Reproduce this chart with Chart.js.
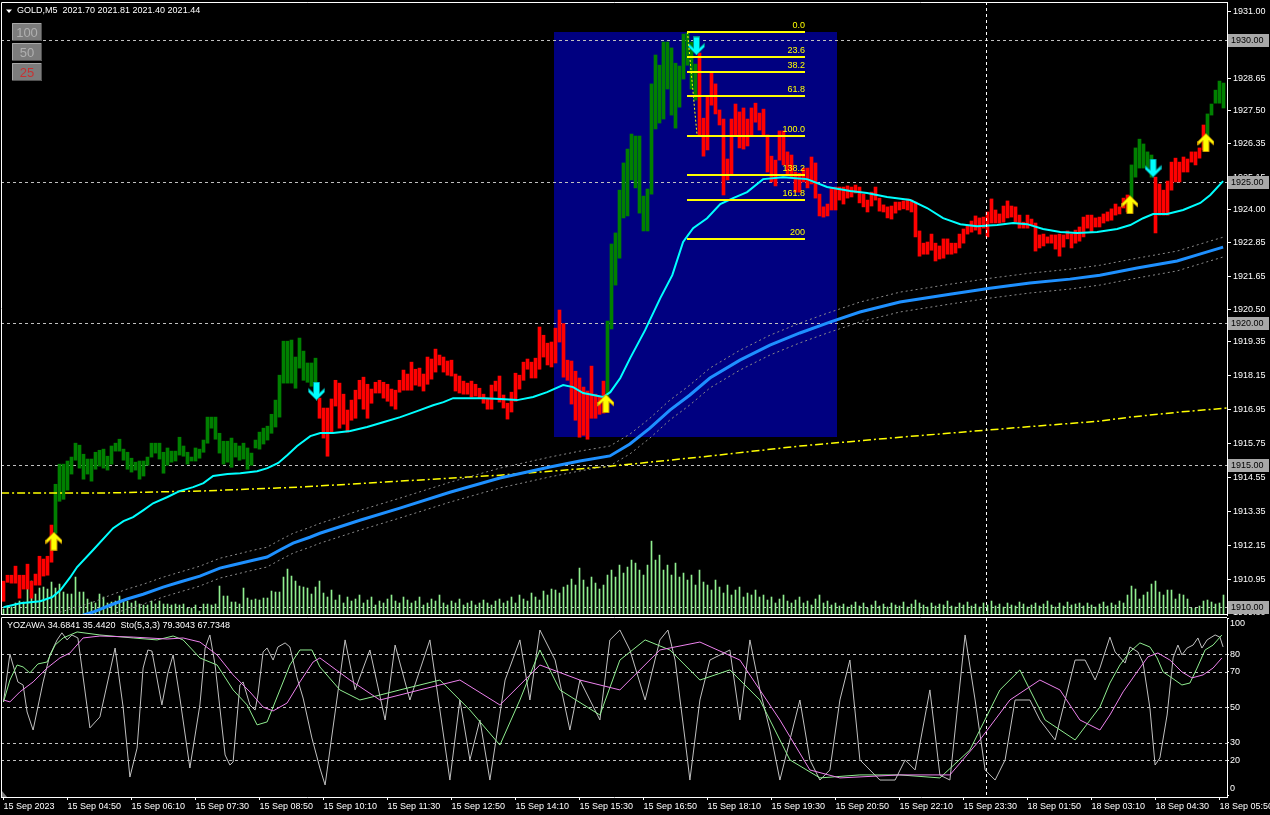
<!DOCTYPE html>
<html><head><meta charset="utf-8">
<script src="https://cdn.jsdelivr.net/npm/chart.js@4/dist/chart.umd.min.js"></script>
<style>
html,body{margin:0;padding:0;background:#000;width:1270px;height:815px;overflow:hidden}
#c1{position:absolute;left:0;top:0}
#c2{position:absolute;left:0;top:616px}
</style></head><body>
<canvas id="c1" width="1270" height="616"></canvas>
<canvas id="c2" width="1270" height="199"></canvas>
<script>
// ---------------- DATA ----------------
const barOpen = [
1910.90,1911.11,1911.11,1911.43,1911.11,1911.11,1911.50,1910.90,1911.15,1911.78,
1911.68,1911.78,1912.88,1912.59,1913.72,1913.79,1914.11,1914.68,1915.17,1914.89,
1914.50,1914.68,1914.43,1914.85,1914.96,1914.89,1914.82,1915.03,1915.49,1915.49,
1915.17,1914.85,1914.75,1914.82,1914.50,1914.61,1914.99,1915.28,1915.42,1915.21,
1914.71,1914.99,1915.10,1915.14,1915.35,1915.31,1915.03,1915.14,1915.14,1915.24,
1915.45,1915.77,1916.30,1915.91,1915.42,1915.03,1915.10,1914.92,1915.28,1915.17,
1915.21,1914.85,1914.99,1915.60,1915.56,1915.74,1915.88,1916.12,1916.34,1916.69,
1917.89,1917.89,1917.89,1917.71,1918.42,1917.99,1917.92,1917.78,1917.64,1917.36,
1917.01,1917.01,1917.33,1917.99,1917.89,1917.50,1916.94,1917.29,1917.64,1917.99,
1918.10,1917.85,1917.68,1917.92,1917.99,1917.92,1917.85,1917.68,1917.64,1917.99,
1918.35,1918.21,1918.63,1918.38,1918.42,1918.21,1918.81,1918.74,1919.09,1918.88,
1918.81,1918.67,1918.70,1918.21,1918.14,1917.96,1917.89,1917.96,1917.85,1917.71,
1917.50,1917.36,1917.82,1917.96,1918.14,1917.47,1917.18,1917.57,1918.24,1918.17,
1918.63,1918.74,1918.63,1918.77,1919.87,1919.58,1919.30,1919.34,1919.83,1920.47,
1919.99,1918.70,1918.67,1918.31,1918.07,1917.75,1917.61,1918.49,1917.50,1917.43,
1917.96,1917.15,1919.80,1921.35,1922.30,1923.72,1923.79,1925.06,1924.78,1923.89,
1923.26,1923.26,1924.56,1926.86,1927.07,1927.21,1928.27,1927.35,1926.89,1927.63,
1928.62,1929.11,1928.27,1927.88,1929.54,1927.24,1927.98,1928.83,1928.45,1927.53,
1927.21,1925.80,1927.21,1927.74,1927.46,1927.60,1927.21,1927.60,1927.77,1927.42,
1927.56,1926.65,1925.90,1925.76,1926.79,1926.79,1926.05,1925.94,1925.34,1925.30,
1925.48,1925.48,1925.87,1925.66,1924.56,1924.11,1924.21,1924.78,1924.81,1924.81,
1924.81,1924.85,1924.81,1924.88,1924.81,1924.56,1924.35,1924.63,1924.81,1924.42,
1924.18,1924.11,1924.14,1924.28,1924.28,1924.32,1924.39,1924.35,1924.28,1923.26,
1922.83,1922.87,1923.15,1922.83,1922.73,1922.98,1922.98,1922.83,1922.83,1923.15,
1923.33,1923.47,1923.61,1923.79,1923.72,1923.75,1923.93,1924.39,1924.00,1923.86,
1924.14,1924.32,1924.14,1924.11,1923.82,1923.57,1923.82,1923.68,1923.54,1923.12,
1923.15,1923.05,1923.12,1923.12,1923.15,1923.12,1923.26,1923.15,1923.29,1923.40,
1923.75,1923.82,1923.82,1923.72,1923.75,1923.86,1923.93,1924.04,1924.21,1924.11,
1924.42,1924.53,1924.42,1925.16,1925.48,1925.48,1925.48,1925.16,1925.16,1924.92,
1924.70,1925.02,1925.69,1925.83,1925.69,1925.87,1925.80,1926.05,1926.05,1926.19,
1927.00,1926.54,1927.35,1927.77,1927.77,1927.60];
const barClose = [
1910.19,1910.86,1910.83,1910.83,1910.30,1910.62,1910.62,1910.30,1910.76,1910.76,
1911.08,1911.11,1911.57,1914.32,1915.03,1915.03,1915.14,1915.28,1915.77,1915.70,
1915.38,1915.21,1915.21,1915.45,1915.52,1915.56,1915.31,1915.67,1915.77,1915.91,
1915.56,1915.45,1915.24,1915.10,1915.14,1915.14,1915.28,1915.77,1915.77,1915.77,
1915.45,1915.60,1915.49,1915.49,1915.98,1915.67,1915.45,1915.28,1915.60,1915.56,
1915.88,1916.69,1916.69,1916.69,1916.12,1915.84,1915.84,1915.95,1915.77,1915.67,
1915.77,1915.60,1915.42,1915.88,1916.16,1916.30,1916.37,1916.79,1917.29,1918.17,
1919.37,1919.37,1919.41,1918.81,1919.48,1919.02,1918.60,1918.60,1918.77,1916.65,
1915.95,1915.31,1916.12,1917.08,1916.30,1916.44,1916.16,1916.58,1916.65,1917.33,
1916.97,1916.65,1917.18,1917.54,1917.54,1917.36,1917.25,1917.08,1916.97,1917.57,
1917.64,1917.64,1917.64,1917.82,1917.78,1917.61,1917.85,1918.03,1918.28,1918.53,
1918.28,1918.17,1918.14,1917.61,1917.54,1917.50,1917.50,1917.40,1917.43,1917.36,
1917.18,1916.97,1916.97,1917.61,1917.22,1917.01,1916.62,1916.87,1917.25,1917.68,
1917.99,1918.38,1918.07,1918.07,1918.38,1918.81,1918.53,1918.46,1918.60,1919.34,
1918.10,1917.99,1917.15,1916.58,1915.98,1916.05,1915.91,1916.65,1916.65,1916.79,
1916.83,1920.08,1922.80,1923.19,1924.70,1925.66,1926.15,1926.68,1926.61,1926.61,
1924.49,1924.74,1928.45,1929.47,1929.11,1929.93,1929.93,1929.72,1929.18,1929.08,
1930.21,1930.24,1929.93,1929.15,1926.65,1925.90,1926.12,1927.70,1927.39,1927.00,
1924.53,1925.06,1925.23,1926.65,1926.19,1926.15,1926.26,1926.61,1927.10,1926.82,
1926.65,1925.34,1924.99,1924.85,1925.76,1925.59,1925.23,1925.13,1924.63,1924.63,
1924.99,1924.78,1924.92,1924.42,1923.79,1923.75,1923.79,1924.00,1924.00,1924.35,
1924.21,1924.42,1924.46,1924.60,1924.25,1924.11,1923.93,1924.14,1924.35,1923.96,
1923.93,1923.72,1923.68,1923.89,1924.00,1924.04,1924.00,1923.93,1923.05,1922.37,
1922.44,1922.44,1922.58,1922.20,1922.27,1922.30,1922.44,1922.44,1922.48,1922.66,
1922.83,1923.15,1923.22,1923.29,1923.15,1923.36,1923.05,1923.54,1923.54,1923.54,
1923.57,1923.72,1923.75,1923.57,1923.36,1923.36,1923.36,1923.47,1922.55,1922.66,
1922.73,1922.83,1922.83,1922.62,1922.37,1922.69,1922.98,1922.66,1922.83,1922.90,
1923.05,1923.36,1923.22,1923.40,1923.40,1923.54,1923.61,1923.64,1923.82,1923.86,
1924.07,1923.93,1925.59,1926.19,1926.50,1926.33,1926.05,1925.94,1923.19,1923.82,
1923.82,1923.82,1924.70,1924.99,1924.99,1925.34,1925.34,1925.69,1925.59,1925.83,
1926.12,1927.39,1927.74,1928.23,1928.55,1928.48];
const tickVolume = [
6,9,8,12,14,13,37,34,21,27,
28,26,33,27,31,23,21,21,38,23,
23,16,13,12,21,18,12,13,14,19,
15,14,12,14,11,10,10,14,11,14,
11,11,10,11,10,11,7,7,10,4,
11,11,10,11,29,19,19,13,13,11,
27,17,15,16,15,17,17,24,23,23,
38,46,39,34,29,28,27,21,28,34,
22,18,25,15,20,12,18,14,16,20,
12,15,18,10,14,12,16,20,14,12,
18,15,12,14,18,10,12,16,14,20,
12,10,14,12,16,10,12,14,10,12,
15,12,10,14,16,12,14,18,12,20,
16,14,22,18,15,24,20,26,25,22,
28,30,36,30,47,35,28,38,32,26,
30,40,45,38,50,42,48,55,52,45,
40,50,74,55,60,45,50,40,52,38,
42,35,40,30,45,33,30,25,35,28,
22,30,20,25,28,18,22,20,25,18,
20,15,18,12,16,20,14,12,15,18,
12,14,10,16,20,12,14,10,12,9,
11,8,10,13,9,12,7,10,14,9,
11,8,12,10,9,13,8,11,15,12,
10,8,12,9,11,10,14,9,8,12,
10,13,9,11,8,12,10,14,9,11,
8,12,10,9,13,11,8,10,12,9,
11,14,10,8,12,9,13,10,11,12,
9,12,10,8,11,13,9,12,10,14,
12,20,29,26,16,20,23,31,34,23,
20,25,25,16,21,20,16,7,7,9,
14,15,13,11,12,20];

const cyanIdx = [0,4.2,9.2,12.2,14.2,16.7,18.4,22.4,27.4,30,32.4,35,37.4,41,44,47.4,50,52.4,56,59.2,63.4,66,68.7,71,73.4,76.7,79.2,82.4,86.7,90.9,94.9,99.2,103.4,107.4,110,112.4,116,120,124.2,128.4,132.4,135.9,139.9,142.4,144.9,147.4,149.9,151.7,154.2,156.7,160.4,164.2,167.2,169.9,172.4,175.9,179.2,182.4,185.9,189.9,194.9,200.9,205.9,211.7,215.9,220.9,226.7,230.9,234.9,239.2,243.4,248.4,252.4,255.9,259.9,264.2,268.4,273.4,278.4,281.7,284.9,287.4,290.9,294.9,299.2,301.7,304.9];
const cyanMA = [1909.98,1910.12,1910.19,1910.34,1910.58,1911.04,1911.40,1912.00,1912.77,1913.02,1913.16,1913.41,1913.65,1913.87,1914.08,1914.22,1914.36,1914.61,1914.68,1914.71,1914.78,1914.89,1915.07,1915.35,1915.67,1916.02,1916.13,1916.13,1916.20,1916.34,1916.51,1916.69,1916.90,1917.11,1917.22,1917.36,1917.36,1917.36,1917.33,1917.29,1917.40,1917.57,1917.82,1917.75,1917.54,1917.47,1917.40,1917.57,1918.07,1918.78,1919.76,1920.89,1921.70,1922.87,1923.36,1923.71,1924.21,1924.42,1924.63,1925.09,1925.16,1925.09,1924.81,1924.67,1924.60,1924.46,1924.35,1924.07,1923.71,1923.50,1923.43,1923.47,1923.54,1923.50,1923.33,1923.22,1923.19,1923.22,1923.33,1923.47,1923.71,1923.86,1923.86,1924.00,1924.25,1924.53,1925.02];

const blueIdx = [11.6,19.9,22.4,26.6,30.9,34.9,39.9,44.1,49.1,54.1,57.4,62.4,65.9,69.1,72.4,76.6,79.1,89.1,99.1,111.6,124.1,136.6,144.1,151.6,156.6,161.6,166.6,171.6,176.6,184.1,191.6,199.1,206.6,214.1,224.1,236.6,246.6,256.6,266.6,274.1,283.4,293.4,299.9,304.9];
const blueMA = [1909.35,1909.70,1909.81,1910.05,1910.27,1910.44,1910.69,1910.87,1911.08,1911.36,1911.47,1911.64,1911.75,1912.00,1912.24,1912.45,1912.59,1913.05,1913.48,1914.04,1914.54,1914.93,1915.14,1915.32,1915.74,1916.30,1916.94,1917.47,1918.07,1918.70,1919.23,1919.66,1920.04,1920.40,1920.75,1921.03,1921.24,1921.42,1921.56,1921.70,1921.95,1922.20,1922.48,1922.69];
const envUpper = [1909.70,1910.05,1910.16,1910.40,1910.62,1910.79,1911.04,1911.22,1911.43,1911.71,1911.82,1911.99,1912.10,1912.35,1912.59,1912.80,1912.94,1913.40,1913.83,1914.39,1914.89,1915.28,1915.49,1915.67,1916.09,1916.65,1917.29,1917.82,1918.42,1919.05,1919.58,1920.01,1920.39,1920.75,1921.10,1921.38,1921.59,1921.77,1921.91,1922.05,1922.30,1922.55,1922.83,1923.04];
const envLower = [1909.00,1909.35,1909.46,1909.70,1909.92,1910.09,1910.34,1910.52,1910.73,1911.01,1911.12,1911.29,1911.40,1911.65,1911.89,1912.10,1912.24,1912.70,1913.13,1913.69,1914.19,1914.58,1914.79,1914.97,1915.39,1915.95,1916.59,1917.12,1917.72,1918.35,1918.88,1919.31,1919.69,1920.05,1920.40,1920.68,1920.89,1921.07,1921.21,1921.35,1921.60,1921.85,1922.13,1922.34];

const yellowIdx = [-0.6,24.1,49.1,74.1,99.1,124.1,149.1,174.1,199.1,224.1,249.1,274.1,281.6,294.1,305.9];
const yellowMA = [1914.01,1914.01,1914.08,1914.22,1914.43,1914.64,1914.92,1915.28,1915.67,1915.98,1916.27,1916.55,1916.69,1916.87,1917.01];

const upArrowIdx = [12.6,150.6,281.6,300.6];
const upArrowPrice = [1912.31,1917.17,1924.19,1926.38];
const downArrowIdx = [78.25,173.25,287.4];
const downArrowPrice = [1917.61,1929.79,1925.48];

const fibLabels = ['0.0','23.6','38.2','61.8','100.0','138.2','161.8','200'];
const fibPrices = [1930.28,1929.40,1928.87,1928.02,1926.61,1925.23,1924.35,1922.97];
const fibStartIdx = 170.9, fibEndIdx = 200.4, fibTrendEndIdx = 173.4;
const rectStartIdx = 137.6, rectEndIdx = 208.4, rectTop = 1930.28, rectBottom = 1915.98;

const priceTicks = [1931.00,1929.85,1928.65,1927.50,1926.35,1925.15,1924.00,1922.85,1921.65,1920.50,1919.35,1918.15,1916.95,1915.75,1914.55,1913.35,1912.15,1910.95,1909.80];
const levelLines = [1930,1925,1920,1915,1910];
const crossIdx = 245.6;

const greyIdx = [0,1.6,3.6,4.9,5.9,7.4,9.9,11.6,13.4,14.6,15.9,17.1,18.6,21.6,23.4,24.1,27.9,29.9,31.6,33.4,34.9,36.1,37.1,39.6,41.1,42.4,44.1,46.6,49.1,50.4,51.6,52.9,55.4,56.6,57.4,59.1,59.9,61.6,62.9,63.6,64.9,65.9,67.4,68.6,70.4,71.6,73.4,74.9,77.1,79.1,80.4,85.4,87.9,91.6,95.4,97.9,101.6,106.6,111.6,114.1,116.6,119.1,121.6,125.4,129.1,131.6,134.1,137.9,141.6,144.1,149.1,151.6,154.1,156.6,160.4,164.1,166.1,167.9,170.4,171.6,174.1,176.6,181.6,184.1,186.6,189.1,191.6,194.1,199.1,201.6,204.1,206.6,209.1,211.6,214.1,219.1,222.9,225.4,227.9,231.6,234.1,236.6,240.4,242.9,245.4,247.9,250.4,252.9,256.6,259.1,262.9,265.4,267.9,270.4,272.9,274.1,276.6,277.9,280.4,281.6,283.6,284.9,286.6,287.9,289.1,290.9,292.4,293.6,294.6,295.9,297.4,298.6,299.6,300.9,302.9,304.1,304.9];
const greyOsc = [53.0,80.1,64.3,62.6,47.3,37.1,64.3,79.6,88.1,92.1,88.1,90.9,89.2,38.3,42.8,44.5,83.5,50.1,10.5,26.9,72.2,82.4,81.8,51.3,69.4,79.6,55.2,15.6,51.3,83.5,90.9,73.9,23.0,17.3,19.0,62.6,64.3,51.3,48.4,56.9,81.3,83.5,76.7,84.1,86.4,84.1,66.6,55.2,32.6,15.6,6.0,88.1,59.8,82.4,42.8,85.2,54.1,88.1,8.8,54.1,20.2,42.8,8.8,65.4,88.1,54.1,93.7,76.7,37.1,65.4,42.8,88.1,93.7,82.4,54.1,88.1,93.7,76.7,31.5,8.8,54.1,76.7,82.4,42.8,88.1,59.8,37.1,8.8,54.1,20.2,8.8,14.5,54.1,76.7,20.2,8.8,8.8,20.2,14.5,59.8,11.6,8.8,90.9,54.1,14.5,8.8,20.2,54.1,54.1,42.8,31.5,54.1,76.7,76.7,65.4,72.2,89.7,81.3,75.0,84.1,81.3,75.0,49.6,17.3,21.3,45.6,77.9,85.2,79.6,83.5,85.2,89.2,83.5,88.1,90.9,89.7,84.1];
const greenIdx = [0,1.6,3.4,4.9,6.6,8.6,10.9,12.9,14.9,18.4,24.1,32.4,38.4,42.4,44.9,49.1,53.4,57.4,60.9,63.4,65.9,68.4,71.6,74.1,77.1,79.1,84.1,89.1,94.1,99.1,109.1,116.6,124.1,129.1,134.1,139.1,149.1,154.1,160.4,166.6,174.1,181.6,189.1,196.6,204.1,214.1,224.1,234.1,241.6,249.1,254.1,260.4,267.9,274.1,276.6,279.1,281.6,284.1,286.6,288.4,289.9,292.1,294.6,296.6,298.4,300.4,302.4,304.6];
const greenOsc = [53.0,65.4,73.9,72.8,69.4,74.5,75.6,85.2,89.2,92.6,90.9,89.2,88.1,90.3,88.1,77.9,73.9,59.8,51.3,40.0,41.7,55.8,73.9,82.4,82.4,72.8,59.8,54.1,56.9,59.8,65.4,48.4,28.6,54.1,82.4,59.8,45.6,76.7,88.1,82.4,65.4,71.1,54.1,20.2,10.0,11.7,11.7,10.0,25.8,59.8,71.1,42.8,31.5,50.1,63.7,73.9,81.3,86.4,84.1,77.9,70.0,66.6,62.6,63.7,72.2,82.4,85.2,90.9];
const violetIdx = [0,1.6,4.1,7.4,10.9,14.1,16.6,19.9,24.1,32.4,40.9,44.9,49.1,53.4,57.4,61.6,64.9,67.4,70.9,74.1,77.4,79.1,86.6,94.1,104.1,114.1,124.1,134.1,144.1,154.1,164.1,174.1,184.1,194.1,201.6,209.1,224.1,236.6,244.1,251.6,259.1,264.1,269.1,274.1,276.6,279.9,283.4,286.1,288.6,291.6,294.6,297.1,299.9,302.4,304.6];
const violetOsc = [54.1,53.0,58.7,64.3,72.2,77.9,80.7,89.2,90.3,89.7,88.6,89.2,86.9,79.6,68.3,58.7,50.1,47.9,52.4,64.3,75.6,77.9,65.4,54.1,59.8,65.4,51.3,73.9,65.4,59.8,82.4,86.9,76.7,42.8,14.5,10.0,11.7,11.7,31.5,54.1,65.4,59.8,42.8,37.1,45.6,58.7,70.0,78.5,80.7,76.7,70.0,66.6,68.3,72.2,77.9];
const oscLevels = [80,70,50,30,20];
const oscTicks = [100,80,70,50,30,20,0];

const timeTickIdx = [0,16,32,48,64,80,96,112,128,144,160,176,192,208,224,240,256,272,288,304];
const timeLabels = ['15 Sep 2023','15 Sep 04:50','15 Sep 06:10','15 Sep 07:30','15 Sep 08:50','15 Sep 10:10','15 Sep 11:30','15 Sep 12:50','15 Sep 14:10','15 Sep 15:30','15 Sep 16:50','15 Sep 18:10','15 Sep 19:30','15 Sep 20:50','15 Sep 22:10','15 Sep 23:30','18 Sep 01:50','18 Sep 03:10','18 Sep 04:30','18 Sep 05:50'];

const titleText = 'GOLD,M5  2021.70 2021.81 2021.40 2021.44';
const oscTitle = 'YOZAWA 34.6841 35.4420  Sto(5,3,3) 79.3043 67.7348';
const buttonLabels = ['100','50','25'];

// ---------------- STYLE ----------------
const FONT = "'Liberation Sans', Arial, sans-serif";
const X_MIN = -0.625, X_MAX = 305.875;
const P_MAX = 1931.341, P_MIN = 1909.706;
Chart.defaults.font.family = FONT;
Chart.defaults.font.size = 9;
Chart.defaults.color = '#ffffff';

function pts(xs, ys) { return xs.map((v, k) => ({x: v, y: ys[k]})); }

function makeArrow(fill, edge, up) {
  const c = document.createElement('canvas'); c.width = 17; c.height = 19;
  const g = c.getContext('2d');
  const p = [[8.5,0.5],[16.5,8.5],[16.5,12],[11.5,7.5],[11.5,18.5],[5.5,18.5],[5.5,7.5],[0.5,12],[0.5,8.5]];
  g.beginPath();
  p.forEach(([x, y], k) => { const yy = up ? y : 19 - y; if (k) g.lineTo(x, yy); else g.moveTo(x, yy); });
  g.closePath(); g.fillStyle = fill; g.fill(); g.strokeStyle = edge; g.lineWidth = 1; g.stroke();
  return c;
}
const upImg = makeArrow('#ffff00', '#c89000', true);
const downImg = makeArrow('#00ffff', '#008c8c', false);

const mainDecor = {
  id: 'mainDecor',
  beforeDatasetsDraw(chart) {
    const {ctx, chartArea: a, scales: {x, y}} = chart;
    ctx.save();
    const rx1 = x.getPixelForValue(rectStartIdx), rx2 = x.getPixelForValue(rectEndIdx);
    const ry1 = y.getPixelForValue(rectTop), ry2 = y.getPixelForValue(rectBottom);
    ctx.fillStyle = '#000080';
    ctx.fillRect(Math.round(rx1), Math.round(ry1), Math.round(rx2 - rx1), Math.round(ry2 - ry1));
    ctx.strokeStyle = '#c0c0c0'; ctx.lineWidth = 1; ctx.setLineDash([3, 3]);
    levelLines.forEach(p => {
      const py = Math.round(y.getPixelForValue(p)) + 0.5;
      ctx.beginPath(); ctx.moveTo(a.left, py); ctx.lineTo(a.right, py); ctx.stroke();
    });
    ctx.restore();
  },
  afterDatasetsDraw(chart) {
    const {ctx, chartArea: a, scales: {x, y}} = chart;
    ctx.save();
    const fx1 = Math.round(x.getPixelForValue(fibStartIdx)), fx2 = Math.round(x.getPixelForValue(fibEndIdx));
    ctx.strokeStyle = '#ffff00'; ctx.lineWidth = 2;
    ctx.font = '9px ' + FONT; ctx.fillStyle = '#ffff00'; ctx.textAlign = 'right'; ctx.textBaseline = 'bottom';
    fibPrices.forEach((p, k) => {
      const py = Math.round(y.getPixelForValue(p));
      ctx.beginPath(); ctx.moveTo(fx1, py); ctx.lineTo(fx2, py); ctx.stroke();
      ctx.fillText(fibLabels[k], fx2, py - 2);
    });
    ctx.lineWidth = 1; ctx.setLineDash([2, 2]);
    ctx.beginPath();
    ctx.moveTo(fx1 + 0.5, y.getPixelForValue(fibPrices[0]));
    ctx.lineTo(x.getPixelForValue(fibTrendEndIdx), y.getPixelForValue(fibPrices[4]));
    ctx.stroke();
    ctx.strokeStyle = '#ffffff'; ctx.setLineDash([3, 3]);
    const cx = Math.round(x.getPixelForValue(crossIdx)) + 0.5;
    ctx.beginPath(); ctx.moveTo(cx, a.top); ctx.lineTo(cx, a.bottom); ctx.stroke();
    ctx.restore();
  },
  afterDraw(chart) {
    const {ctx, chartArea: a, scales: {y}} = chart;
    ctx.save();
    ctx.strokeStyle = '#ffffff'; ctx.lineWidth = 1;
    ctx.beginPath();
    ctx.moveTo(a.left + 0.5, a.bottom); ctx.lineTo(a.left + 0.5, a.top + 0.5); ctx.lineTo(a.right, a.top + 0.5);
    ctx.moveTo(a.left, a.bottom - 0.5); ctx.lineTo(a.right, a.bottom - 0.5);
    ctx.stroke();
    // title
    ctx.fillStyle = '#ffffff';
    ctx.beginPath(); ctx.moveTo(6, 9.5); ctx.lineTo(12, 9.5); ctx.lineTo(9, 13); ctx.closePath(); ctx.fill();
    ctx.font = '9px ' + FONT; ctx.textBaseline = 'middle'; ctx.textAlign = 'left';
    ctx.fillText(titleText, 17, 11);
    // buttons
    buttonLabels.forEach((t, k) => {
      const bx = 12, by = 23 + k * 20, bw = 30, bh = 18;
      ctx.fillStyle = '#7c7c7c'; ctx.fillRect(bx, by, bw, bh);
      ctx.strokeStyle = '#a8a8a8'; ctx.beginPath();
      ctx.moveTo(bx + 0.5, by + bh); ctx.lineTo(bx + 0.5, by + 0.5); ctx.lineTo(bx + bw, by + 0.5); ctx.stroke();
      ctx.strokeStyle = '#505050'; ctx.beginPath();
      ctx.moveTo(bx + bw - 0.5, by); ctx.lineTo(bx + bw - 0.5, by + bh - 0.5); ctx.lineTo(bx, by + bh - 0.5); ctx.stroke();
      ctx.font = '13px ' + FONT; ctx.textAlign = 'center';
      ctx.fillStyle = k === 2 ? '#c83232' : '#b0b0b0';
      ctx.fillText(t, bx + bw / 2, by + bh / 2 + 1);
    });
    // price boxes
    ctx.font = '9px ' + FONT; ctx.textAlign = 'left';
    levelLines.forEach(p => {
      const py = Math.round(y.getPixelForValue(p));
      ctx.fillStyle = '#a8a8a8'; ctx.fillRect(1228, py - 6, 41, 13);
      ctx.fillStyle = '#000000'; ctx.fillText(p.toFixed(2), 1231, py + 0.5);
    });
    ctx.restore();
  }
};

const oscDecor = {
  id: 'oscDecor',
  beforeDatasetsDraw(chart) {
    const {ctx, chartArea: a, scales: {x, y}} = chart;
    ctx.save();
    ctx.strokeStyle = '#c0c0c0'; ctx.lineWidth = 1; ctx.setLineDash([3, 3]);
    oscLevels.forEach(v => {
      const py = Math.round(y.getPixelForValue(v)) + 0.5;
      ctx.beginPath(); ctx.moveTo(a.left, py); ctx.lineTo(a.right, py); ctx.stroke();
    });
    ctx.strokeStyle = '#ffffff';
    const cx = Math.round(x.getPixelForValue(crossIdx)) + 0.5;
    ctx.beginPath(); ctx.moveTo(cx, a.top); ctx.lineTo(cx, a.bottom); ctx.stroke();
    ctx.restore();
  },
  afterDraw(chart) {
    const {ctx, chartArea: a, scales: {y}} = chart;
    ctx.save();
    ctx.strokeStyle = '#ffffff'; ctx.lineWidth = 1;
    ctx.beginPath();
    ctx.moveTo(a.left + 0.5, a.bottom); ctx.lineTo(a.left + 0.5, a.top - 0.5); ctx.lineTo(a.right, a.top - 0.5);
    ctx.stroke();
    ctx.fillStyle = '#808080';
    ctx.beginPath(); ctx.moveTo(2, a.bottom - 6); ctx.lineTo(2, a.bottom); ctx.lineTo(7, a.bottom); ctx.closePath(); ctx.fill();
    ctx.fillStyle = '#ffffff'; ctx.font = '9px ' + FONT; ctx.textBaseline = 'middle'; ctx.textAlign = 'left';
    ctx.fillText(oscTitle, 7, a.top + 8);
    ctx.fillText('100', 1230, a.top + 6);
    ctx.fillText('0', 1230, a.bottom - 8);
    ctx.restore();
  }
};

new Chart(document.getElementById('c1'), {
  type: 'line',
  data: { datasets: [
    { type: 'line', data: pts(upArrowIdx, upArrowPrice), showLine: false, pointStyle: upImg, pointRadius: 8, order: 0 },
    { type: 'line', data: pts(downArrowIdx, downArrowPrice), showLine: false, pointStyle: downImg, pointRadius: 8, order: 0 },
    { type: 'line', data: pts(cyanIdx, cyanMA), borderColor: '#00ffff', borderWidth: 2, pointRadius: 0, order: 1 },
    { type: 'line', data: pts(blueIdx, blueMA), borderColor: '#1e90ff', borderWidth: 3, pointRadius: 0, order: 2 },
    { type: 'line', data: pts(blueIdx, envUpper), borderColor: '#8a8a8a', borderWidth: 1, borderDash: [2, 3], pointRadius: 0, order: 3 },
    { type: 'line', data: pts(blueIdx, envLower), borderColor: '#8a8a8a', borderWidth: 1, borderDash: [2, 3], pointRadius: 0, order: 3 },
    { type: 'line', data: pts(yellowIdx, yellowMA), borderColor: '#ffff00', borderWidth: 1.5, borderDash: [8, 3, 2, 3], pointRadius: 0, order: 4 },
    { type: 'bar', data: barOpen.map((o, k) => ({x: k, y: [o, barClose[k]]})), yAxisID: 'y', grouped: false,
      barThickness: 3, borderWidth: 0,
      backgroundColor: ctx => barClose[ctx.dataIndex] >= barOpen[ctx.dataIndex] ? '#008000' : '#ff0000', order: 5 },
    { type: 'bar', data: tickVolume.map((v, k) => ({x: k, y: v})), yAxisID: 'yv', grouped: false,
      barThickness: 1, borderWidth: 0, backgroundColor: '#90ee90', order: 6 }
  ]},
  options: {
    responsive: false, animation: false, devicePixelRatio: 1, events: [],
    layout: { autoPadding: false, padding: { left: 1, right: 0, top: 2, bottom: 1 } },
    plugins: { legend: { display: false }, tooltip: { enabled: false } },
    scales: {
      x: { type: 'linear', min: X_MIN, max: X_MAX, display: false, offset: false },
      y: { type: 'linear', position: 'right', min: P_MIN, max: P_MAX,
        afterBuildTicks: s => { s.ticks = priceTicks.map(v => ({value: v})); },
        afterFit: s => { s.width = 43; s.paddingTop = 0; s.paddingBottom = 0; },
        grid: { drawOnChartArea: false, drawTicks: true, tickLength: 4, color: '#ffffff' },
        border: { display: true, color: '#ffffff', width: 1 },
        ticks: { color: '#ffffff', font: { size: 9 }, padding: 2, autoSkip: false, callback: v => Number(v).toFixed(2) } },
      yv: { type: 'linear', display: false, min: 0, max: 614 }
    }
  },
  plugins: [mainDecor]
});

new Chart(document.getElementById('c2'), {
  type: 'line',
  data: { datasets: [
    { data: pts(greyIdx, greyOsc), borderColor: '#c0c0c0', borderWidth: 1, pointRadius: 0, order: 3 },
    { data: pts(greenIdx, greenOsc), borderColor: '#90ee90', borderWidth: 1, pointRadius: 0, order: 2 },
    { data: pts(violetIdx, violetOsc), borderColor: '#ee82ee', borderWidth: 1, pointRadius: 0, order: 1 }
  ]},
  options: {
    responsive: false, animation: false, devicePixelRatio: 1, events: [],
    layout: { autoPadding: false, padding: { left: 1, right: 0, top: 2, bottom: 0 } },
    plugins: { legend: { display: false }, tooltip: { enabled: false } },
    scales: {
      x: { type: 'linear', position: 'bottom', min: X_MIN, max: X_MAX, offset: false,
        afterBuildTicks: s => { s.ticks = timeTickIdx.map(v => ({value: v})); },
        afterFit: s => { s.height = 18; s.paddingLeft = 0; s.paddingRight = 0; },
        grid: { drawOnChartArea: false, drawTicks: true, tickLength: 3, color: '#ffffff' },
        border: { display: true, color: '#ffffff', width: 1 },
        ticks: { color: '#ffffff', font: { size: 9 }, padding: 1, align: 'start', maxRotation: 0, minRotation: 0, autoSkip: false,
          callback: (v, k) => timeLabels[k] } },
      y: { type: 'linear', position: 'right', min: -0.8, max: 100.5,
        afterBuildTicks: s => { s.ticks = oscTicks.map(v => ({value: v})); },
        afterFit: s => { s.width = 43; s.paddingTop = 0; s.paddingBottom = 0; },
        grid: { drawOnChartArea: false, drawTicks: true, tickLength: 2, color: '#ffffff' },
        border: { display: true, color: '#ffffff', width: 1 },
        ticks: { color: '#ffffff', font: { size: 9 }, padding: 1, autoSkip: false,
          callback: v => (v === 100 || v === 0) ? '' : String(v) } }
    }
  },
  plugins: [oscDecor]
});
</script>
</body></html>
